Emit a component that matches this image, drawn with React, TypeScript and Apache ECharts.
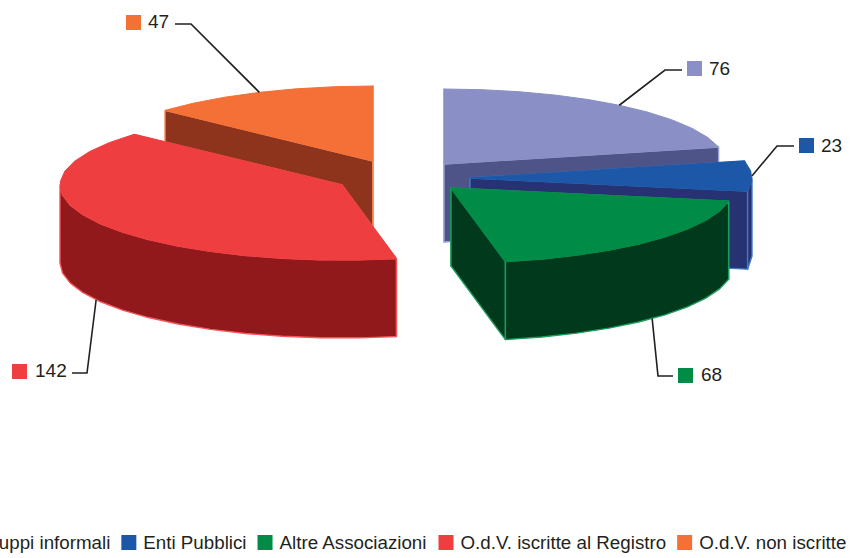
import React, { useEffect, useRef } from "react";
import * as echarts from "echarts";

const categories = ["Gruppi informali", "Enti Pubblici", "Altre Associazioni", "O.d.V. iscritte al Registro", "O.d.V. non iscritte"];
const values = [76, 23, 68, 142, 47];

const topColors = ["#8a8fc6", "#1d58a8", "#008c47", "#ef3e40", "#f47036"];
const wallColors = ["#4f5488", "#273272", "#00391c", "#91191c", "#8f341c"];
const edgeColors = ["#9da2d3", "#3f78c4", "#1a9c5c", "#f4555a", "#f58a55"];
const drawOrder = [1, 2, 3, 2, 1];
const centers: number[][] = [[444, 164], [470, 178], [451, 188], [342, 185], [373, 161]];
const elbows: number[][] = [[665, 70], [777, 146], [658, 376], [87, 373], [191, 24]];
const stubEnds: number[][] = [[682, 70], [794, 146], [673, 376], [72, 373], [175, 24]];
const swatches: number[][] = [[687, 61], [799, 138], [678, 368], [12, 364], [126, 15]];
const labelPos: number[][] = [[709, 68], [821, 145], [701, 374], [35, 370], [148, 21]];

const RX = 282;
const RY = 75;
const DEPTH = 78;
const STEP = 8;
const FONT = '"Liberation Sans", Arial, sans-serif';
const total = values.reduce((a, b) => a + b, 0);

function point(c: number[], deg: number, dy = 0): number[] {
  const t = (deg * Math.PI) / 180;
  return [c[0] + RX * Math.sin(t), c[1] - RY * Math.cos(t) + dy];
}

function arc(c: number[], a0: number, a1: number, dy = 0): number[][] {
  const pts: number[][] = [];
  const n = Math.max(1, Math.round((a1 - a0) / STEP));
  for (let i = 0; i <= n; i++) pts.push(point(c, a0 + ((a1 - a0) * i) / n, dy));
  return pts;
}

function makeRender(index: number) {
  return (_params: any, api: any) => {
    const value = api.value(0) as number;
    const before = values.slice(0, index).reduce((a, b) => a + b, 0);
    const a0 = (before / total) * 360;
    const a1 = ((before + value) / total) * 360;
    const c = centers[index];
    const poly = (points: number[][], fill: string, stroke: string, lineWidth: number) => ({
      type: "polygon",
      shape: { points },
      style: { fill, stroke, lineWidth, lineJoin: "round" },
    });
    const children: any[] = [];
    for (const a of [a0, a1]) {
      const p = point(c, a);
      children.push(poly([c, p, [p[0], p[1] + DEPTH], [c[0], c[1] + DEPTH]], wallColors[index], edgeColors[index], 1.4));
    }
    const f0 = Math.max(a0, 90);
    const f1 = Math.min(a1, 270);
    if (f1 > f0) {
      const upper = arc(c, f0, f1);
      const lower = arc(c, f0, f1, DEPTH).reverse();
      children.push(poly(upper.concat(lower), wallColors[index], edgeColors[index], 1.4));
    }
    children.push(poly([c].concat(arc(c, a0, a1)), topColors[index], topColors[index], 1));

    const mid = (a0 + a1) / 2;
    const front = mid > 90 && mid < 270;
    const anchor = point(c, mid, front ? DEPTH : 0);
    children.push({
      type: "polyline",
      shape: { points: [anchor, elbows[index], stubEnds[index]] },
      style: { fill: "none", stroke: "#231f20", lineWidth: 1.6 },
    });
    children.push({
      type: "rect",
      shape: { x: swatches[index][0], y: swatches[index][1], width: 15, height: 15 },
      style: { fill: topColors[index] },
    });
    children.push({
      type: "text",
      style: {
        text: String(value),
        x: labelPos[index][0],
        y: labelPos[index][1],
        fill: "#231f20",
        font: `19px ${FONT}`,
        verticalAlign: "middle",
      },
    });
    return { type: "group", children };
  };
}

export default function App() {
  const ref = useRef<HTMLDivElement>(null);
  useEffect(() => {
    document.body.style.margin = "0";
    const chart = echarts.init(ref.current!, undefined, { renderer: "svg" });
    chart.setOption({
      animation: false,
      backgroundColor: "#ffffff",
      legend: {
        data: categories,
        left: -44,
        top: 533,
        orient: "horizontal",
        width: 1000,
        icon: "rect",
        itemWidth: 15,
        itemHeight: 15,
        itemGap: 11,
        selectedMode: false,
        padding: 0,
        textStyle: { fontFamily: FONT, fontSize: 18.75, color: "#231f20", padding: [0, 0, 0, 2] },
      },
      series: categories.map((name, i) => ({
        type: "custom",
        name,
        coordinateSystem: "none",
        z: drawOrder[i],
        silent: true,
        itemStyle: { color: topColors[i] },
        data: [[values[i]]],
        renderItem: makeRender(i),
      })),
    });
    return () => chart.dispose();
  }, []);
  return <div ref={ref} style={{ position: "absolute", left: 0, top: 0, width: 851, height: 558 }} />;
}
